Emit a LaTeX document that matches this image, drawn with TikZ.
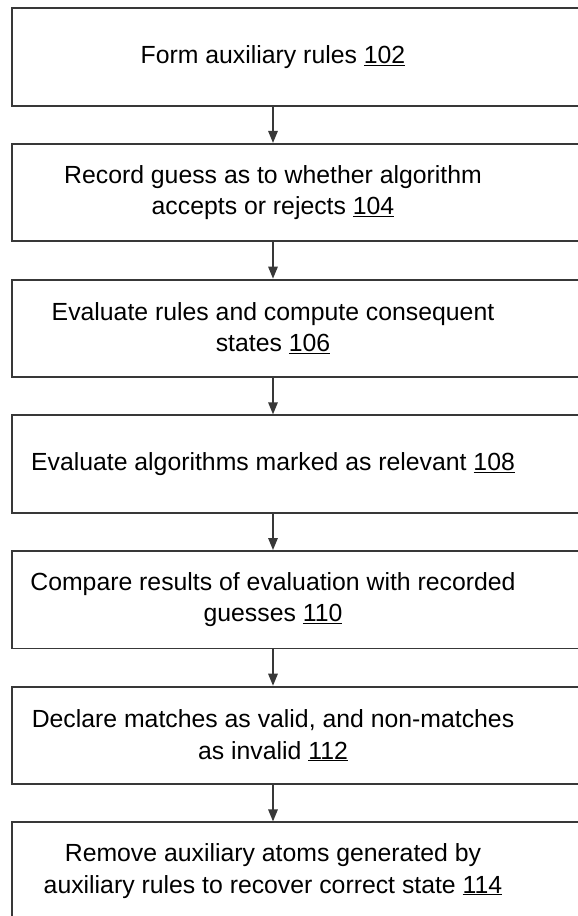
\documentclass[tikz,border=0pt]{standalone}
\usepackage{fontspec}
\setmainfont{Liberation Sans}
\usepackage{tikz}
\usetikzlibrary{arrows.meta}

\definecolor{boxline}{gray}{0.22}
\definecolor{inkgray}{gray}{0.0}
\newcommand{\stagetext}[1]{\makebox[588pt][l]{\parbox{522pt}{\centering #1}}}

\begin{document}
\begin{tikzpicture}[
  stage/.style={draw=boxline, line width=1.9pt, shape=rectangle,
    minimum width=588pt, minimum height=97.5pt, inner sep=0pt,
    text=inkgray, font=\fontsize{24.8}{31.5}\selectfont},
  flow/.style={draw=boxline, line width=1.5pt,
    -{Triangle[length=12pt, width=9.5pt]}}
]
\useasboundingbox (0,0) rectangle (578pt,-916pt);
\clip (0,0) rectangle (578pt,-916pt);
\fill[white] (0,0) rectangle (578pt,-916pt);
\matrix [row sep=36.3pt, inner sep=0pt, anchor=north] at (306pt,-7pt) {
  \node (rules) [stage] {\stagetext{Form auxiliary rules \underline{102}}}; \\
  \node (guess) [stage] {\stagetext{Record guess as to whether algorithm\\accepts or rejects \underline{104}}}; \\
  \node (states) [stage] {\stagetext{Evaluate rules and compute consequent\\states \underline{106}}}; \\
  \node (algos) [stage] {\stagetext{Evaluate algorithms marked as relevant \underline{108}}}; \\
  \node (compare) [stage] {\stagetext{Compare results of evaluation with recorded\\guesses \underline{110}}}; \\
  \node (declare) [stage] {\stagetext{Declare matches as valid, and non-matches\\as invalid \underline{112}}}; \\
  \node (remove) [stage] {\stagetext{Remove auxiliary atoms generated by\\auxiliary rules to recover correct state \underline{114}}}; \\
};
\draw[flow] ([xshift=-33pt]rules.south) -- ([xshift=-33pt]guess.north);
\draw[flow] ([xshift=-33pt]guess.south) -- ([xshift=-33pt]states.north);
\draw[flow] ([xshift=-33pt]states.south) -- ([xshift=-33pt]algos.north);
\draw[flow] ([xshift=-33pt]algos.south) -- ([xshift=-33pt]compare.north);
\draw[flow] ([xshift=-33pt]compare.south) -- ([xshift=-33pt]declare.north);
\draw[flow] ([xshift=-33pt]declare.south) -- ([xshift=-33pt]remove.north);
\end{tikzpicture}
\end{document}
